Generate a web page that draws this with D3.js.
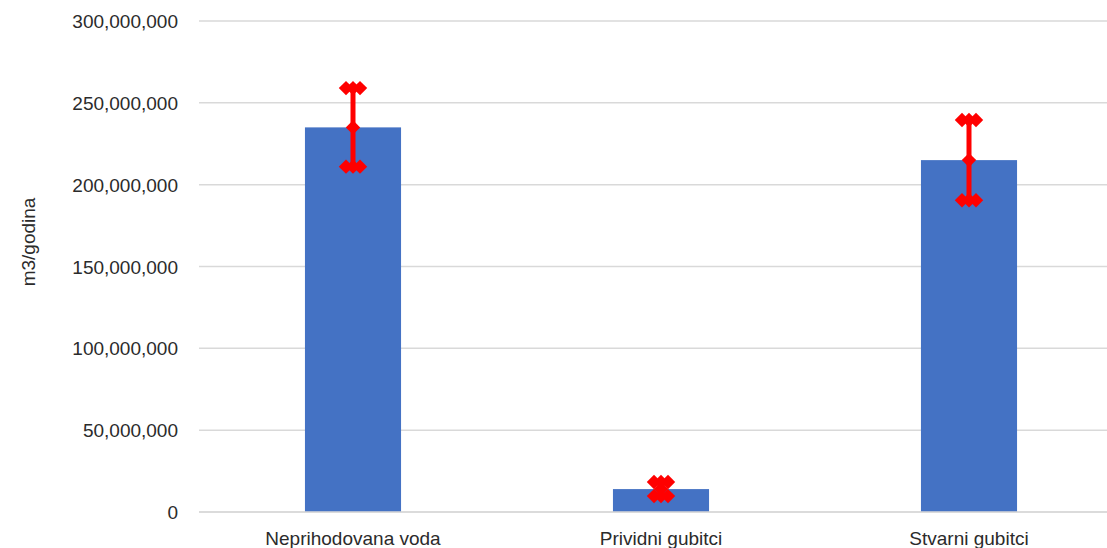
<!DOCTYPE html>
<html><head><meta charset="utf-8">
<script src="https://cdn.jsdelivr.net/npm/d3@7"></script>
<style>body{margin:0;background:#fff}svg{display:block}</style>
</head><body>
<svg id="c" width="1107" height="548"></svg>
<script>
const categories = ["Neprihodovana voda", "Prividni gubitci", "Stvarni gubitci"];
const values = [235000000, 14000000, 215000000];
const errors = [24000000, 4300000, 24500000];
const yTicks = [0, 50000000, 100000000, 150000000, 200000000, 250000000, 300000000];
const yTitle = "m3/godina";

const svg = d3.select("#c");
const font = "'Liberation Sans', Arial, sans-serif";
const x = d3.scaleBand().domain(categories).range([199, 1123]).paddingInner(0.688).paddingOuter(0.344);
const y = d3.scaleLinear().domain([0, 300000000]).range([512, 21]);
const fmt = d3.format(",");

// gridlines
svg.append("g").selectAll("line").data(yTicks).join("line")
  .attr("x1", 199).attr("x2", 1107)
  .attr("y1", d => y(d)).attr("y2", d => y(d))
  .attr("stroke", "#d9d9d9").attr("stroke-width", 1.5);

// y tick labels
const yAxis = d3.axisLeft(y).tickValues(yTicks).tickFormat(fmt).tickSize(0).tickPadding(0);
const ga = svg.append("g").attr("transform", "translate(178,0)").call(yAxis);
ga.select(".domain").remove();
ga.selectAll("text").attr("font-family", font).attr("font-size", 19).attr("fill", "#2b2b2b").attr("dy", "0.35em");

// bars
svg.append("g").selectAll("rect").data(values).join("rect")
  .attr("x", (d, i) => x(categories[i]))
  .attr("width", x.bandwidth())
  .attr("y", d => y(d))
  .attr("height", d => y(0) - y(d))
  .attr("fill", "#4472C4");

// baseline
svg.append("line").attr("x1", 199).attr("x2", 1107).attr("y1", y(0)).attr("y2", y(0))
  .attr("stroke", "#d9d9d9").attr("stroke-width", 1.5);

// error bars
const eg = svg.append("g");
const diamond = d3.symbol(d3.symbolSquare, 104)();
values.forEach((v, i) => {
  const cx = x(categories[i]) + x.bandwidth() / 2;
  const e = errors[i];
  eg.append("line").attr("x1", cx).attr("x2", cx).attr("y1", y(v + e)).attr("y2", y(v - e))
    .attr("stroke", "#ff0000").attr("stroke-width", 5);
  [v + e, v - e].forEach(val => {
    [-7, 0, 7].forEach(off => {
      eg.append("path").attr("d", diamond)
        .attr("transform", `translate(${cx + off},${y(val)}) rotate(45)`)
        .attr("fill", "#ff0000");
    });
  });
  eg.append("path").attr("d", diamond)
    .attr("transform", `translate(${cx},${y(v)}) rotate(45)`)
    .attr("fill", "#ff0000");
});

// x labels
const xAxis = d3.axisBottom(x).tickSize(0).tickPadding(0);
const gx = svg.append("g").attr("transform", "translate(0,531.5)").call(xAxis);
gx.select(".domain").remove();
gx.selectAll("text").attr("font-family", font).attr("font-size", 19).attr("fill", "#2b2b2b").attr("dy", "0.71em");

// y title
svg.append("text").attr("transform", "translate(35,242) rotate(-90)")
  .attr("text-anchor", "middle").attr("font-family", font).attr("font-size", 19).attr("fill", "#2b2b2b")
  .text(yTitle);
</script>
</body></html>
